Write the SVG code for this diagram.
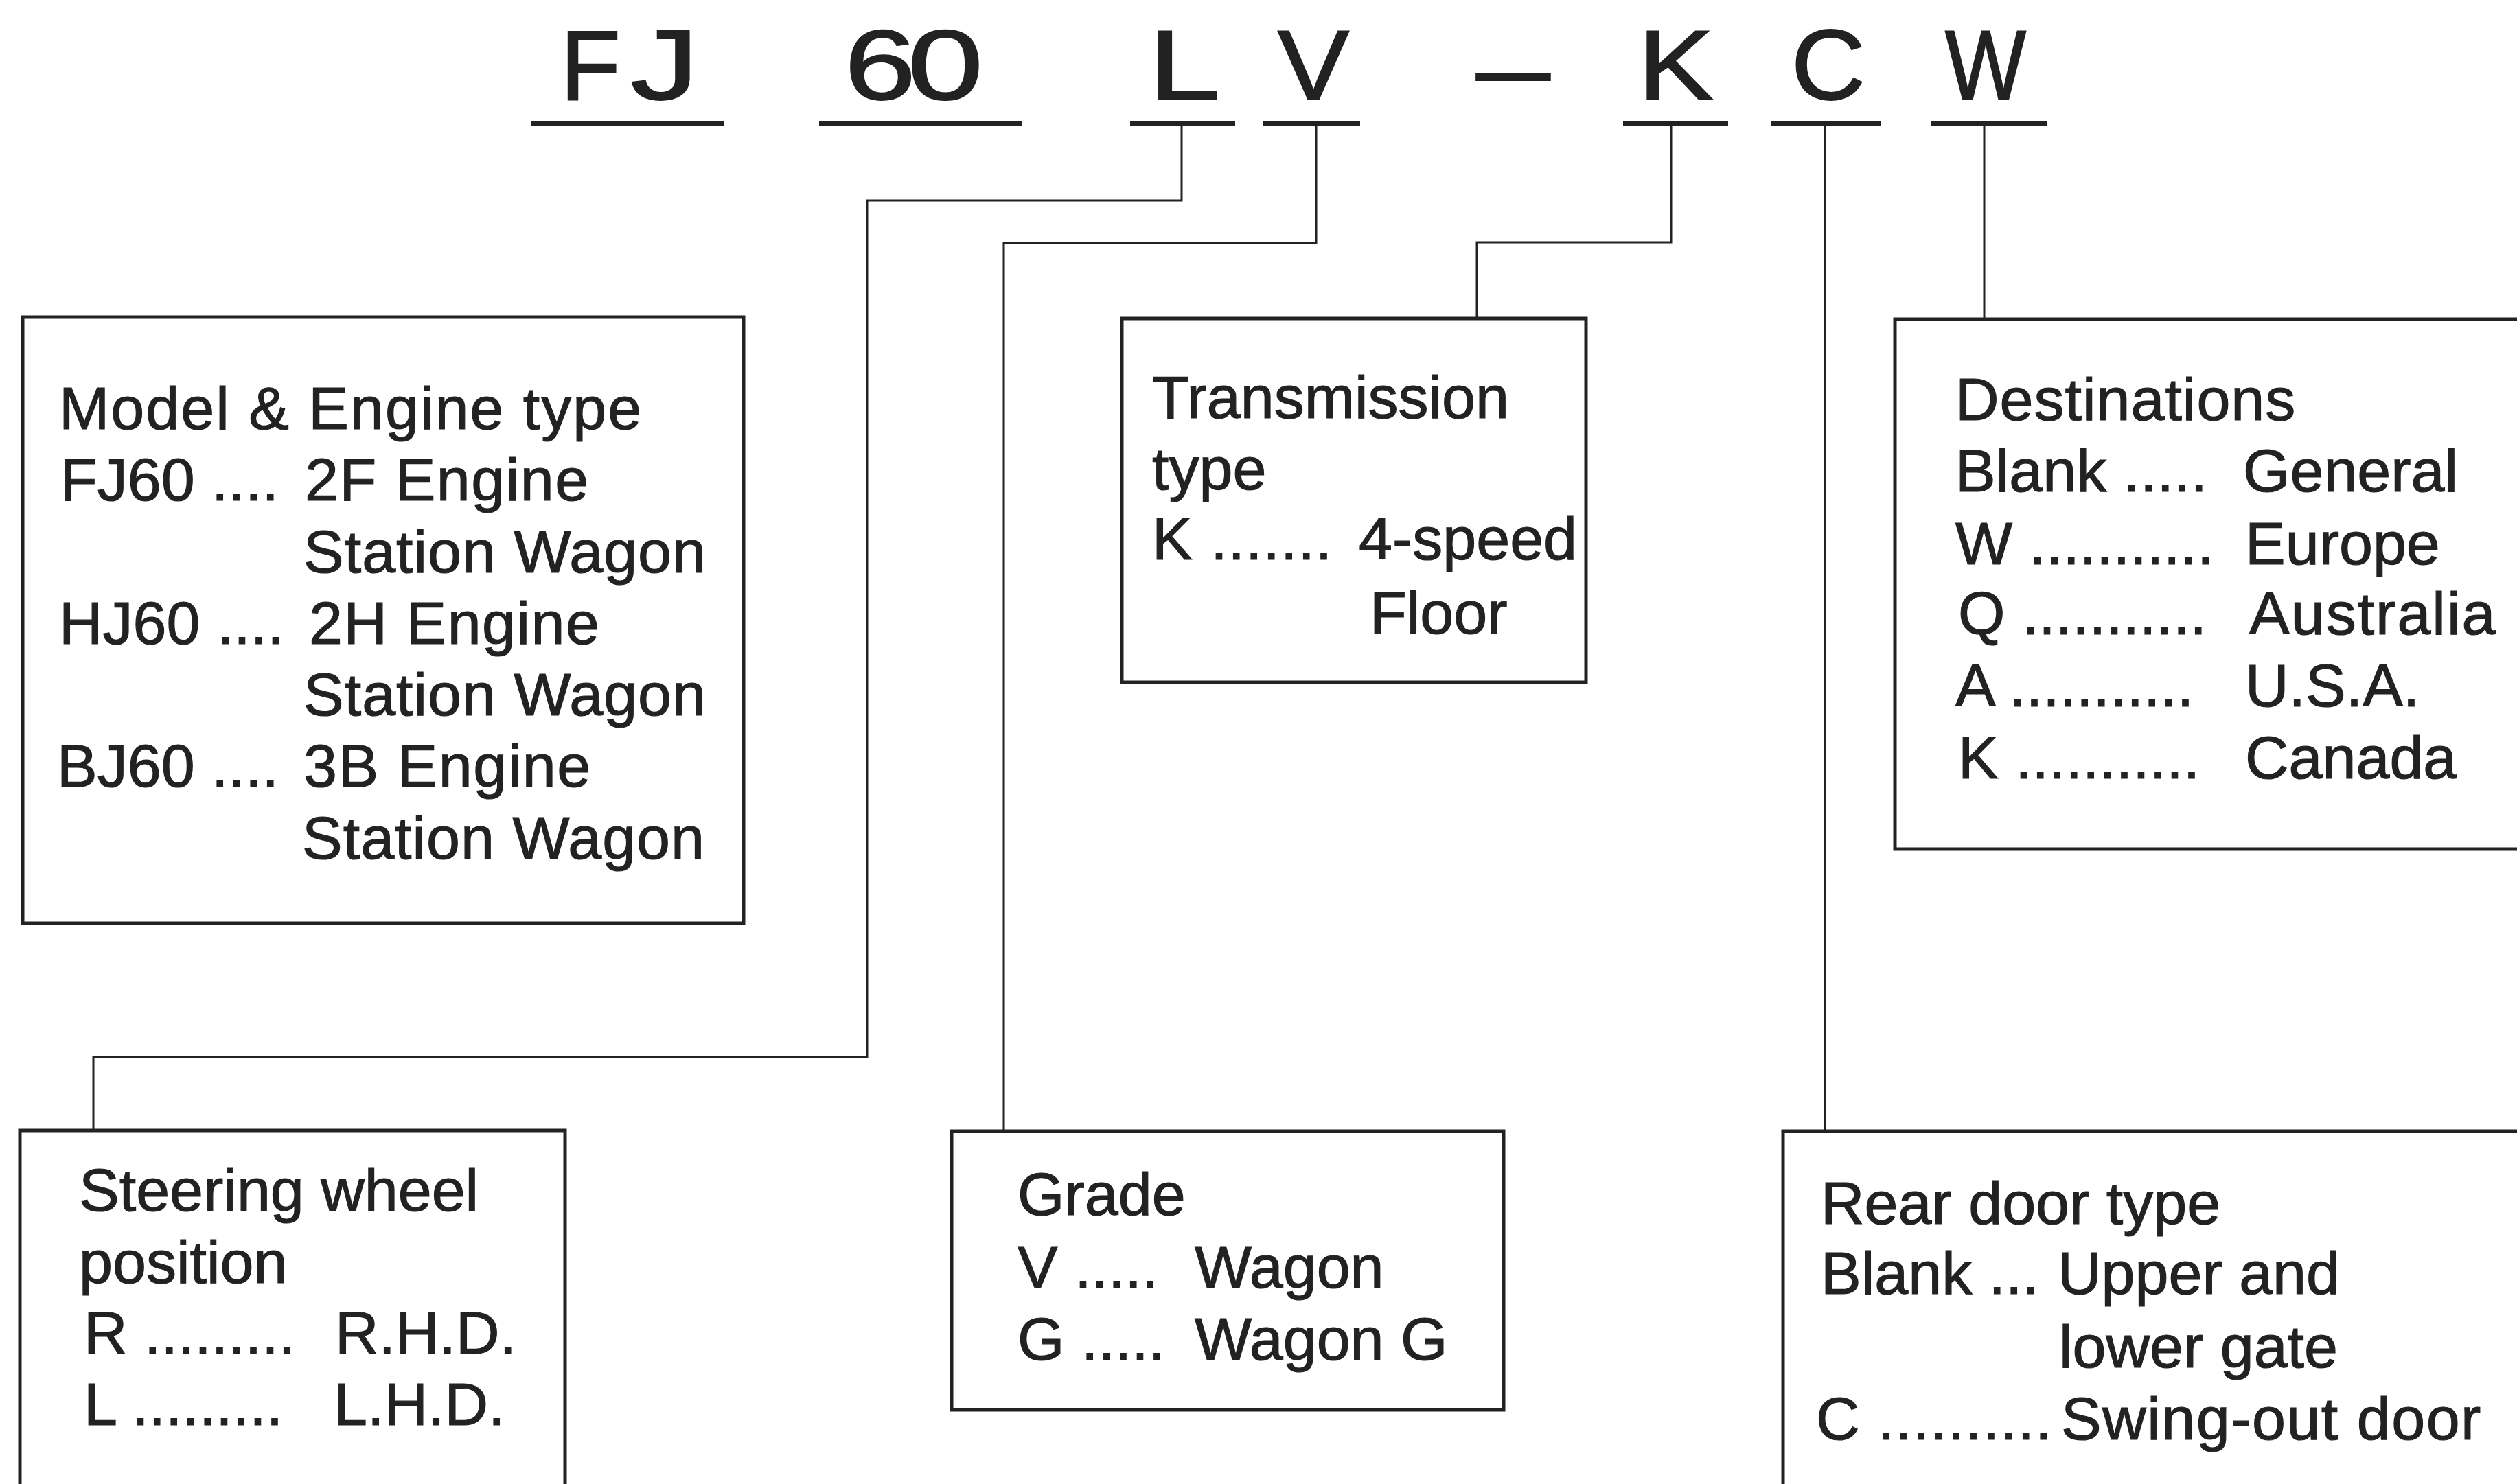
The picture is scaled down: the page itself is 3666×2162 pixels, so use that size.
<svg xmlns="http://www.w3.org/2000/svg" width="3666" height="2162" viewBox="0 0 3666 2162">
<style>
.bg{fill:#ffffff}
.t{font-family:"Liberation Sans",Arial,sans-serif;font-size:88px;fill:#222222;stroke:#222222;stroke-width:1.2}
.title{font-family:"Liberation Sans",Arial,sans-serif;font-size:144px;fill:#222222;stroke:#222222;stroke-width:2;text-anchor:middle}
.box{fill:none;stroke:#222222;stroke-width:5}
.ul{stroke:#222222;stroke-width:6;fill:none}
.conn{fill:none;stroke:#222222;stroke-width:3}
</style>
<rect class="bg" x="0" y="0" width="3666" height="2162"/>
<g id="title">
<text class="title" x="860" y="145" textLength="88" lengthAdjust="spacingAndGlyphs">F</text>
<text class="title" x="968" y="145" textLength="100" lengthAdjust="spacingAndGlyphs">J</text>
<text class="title" x="1282" y="145" textLength="104" lengthAdjust="spacingAndGlyphs">6</text>
<text class="title" x="1377" y="145" textLength="110" lengthAdjust="spacingAndGlyphs">0</text>
<text class="title" x="1725" y="145" textLength="104" lengthAdjust="spacingAndGlyphs">L</text>
<text class="title" x="1913" y="145" textLength="104" lengthAdjust="spacingAndGlyphs">V</text>
<text class="title" x="2204" y="149" textLength="107" lengthAdjust="spacingAndGlyphs">–</text>
<text class="title" x="2441" y="145" textLength="110" lengthAdjust="spacingAndGlyphs">K</text>
<text class="title" x="2663" y="145" textLength="108" lengthAdjust="spacingAndGlyphs">C</text>
<text class="title" x="2892" y="145" textLength="118" lengthAdjust="spacingAndGlyphs">W</text>
<line class="ul" x1="773" y1="180" x2="1055" y2="180"/>
<line class="ul" x1="1193" y1="180" x2="1488" y2="180"/>
<line class="ul" x1="1646" y1="180" x2="1799" y2="180"/>
<line class="ul" x1="1840" y1="180" x2="1981" y2="180"/>
<line class="ul" x1="2364" y1="180" x2="2517" y2="180"/>
<line class="ul" x1="2580" y1="180" x2="2739" y2="180"/>
<line class="ul" x1="2812" y1="180" x2="2981" y2="180"/>
</g>
<g id="connectors">
<path class="conn" d="M1721 180 V292 H1263 V1540 H136 V1648"/>
<path class="conn" d="M1917 180 V354 H1462 V1648"/>
<path class="conn" d="M2434 180 V353 H2151 V465"/>
<path class="conn" d="M2658 180 V1648"/>
<path class="conn" d="M2890 180 V465"/>
</g>
<g id="model-engine">
<rect class="box" x="33" y="462" width="1050" height="883"/>
<text class="t" x="86" y="625" letter-spacing="2">Model &amp; Engine type</text>
<text class="t" x="88" y="729">FJ60 ....</text>
<text class="t" x="444" y="729" letter-spacing="1.5">2F Engine</text>
<text class="t" x="442" y="834" letter-spacing="1">Station Wagon</text>
<text class="t" x="86" y="938">HJ60 ....</text>
<text class="t" x="450" y="938" letter-spacing="1.5">2H Engine</text>
<text class="t" x="442" y="1042" letter-spacing="1">Station Wagon</text>
<text class="t" x="83" y="1146">BJ60 ....</text>
<text class="t" x="442" y="1146" letter-spacing="1.5">3B Engine</text>
<text class="t" x="440" y="1251" letter-spacing="1">Station Wagon</text>
</g>
<g id="transmission">
<rect class="box" x="1634" y="464" width="676" height="530"/>
<text class="t" x="1678" y="609">Transmission</text>
<text class="t" x="1678" y="713">type</text>
<text class="t" x="1678" y="815" letter-spacing="1">K .......</text>
<text class="t" x="1979" y="815">4-speed</text>
<text class="t" x="1995" y="923">Floor</text>
</g>
<g id="destinations">
<rect class="box" x="2760" y="465" width="930" height="772"/>
<text class="t" x="2848" y="612" letter-spacing="1">Destinations</text>
<text class="t" x="2848" y="716">Blank .....</text>
<text class="t" x="3267" y="716">General</text>
<text class="t" x="2848" y="822">W ...........</text>
<text class="t" x="3270" y="822">Europe</text>
<text class="t" x="2852" y="924">Q ...........</text>
<text class="t" x="3276" y="924" letter-spacing="2">Australia</text>
<text class="t" x="2848" y="1029">A ...........</text>
<text class="t" x="3270" y="1029">U.S.A.</text>
<text class="t" x="2852" y="1134">K ...........</text>
<text class="t" x="3270" y="1134">Canada</text>
</g>
<g id="steering">
<rect class="box" x="29" y="1647" width="794" height="560"/>
<text class="t" x="115" y="1764">Steering wheel</text>
<text class="t" x="115" y="1869">position</text>
<text class="t" x="122" y="1972">R .........</text>
<text class="t" x="488" y="1972">R.H.D.</text>
<text class="t" x="122" y="2076">L .........</text>
<text class="t" x="486" y="2076">L.H.D.</text>
</g>
<g id="grade">
<rect class="box" x="1386" y="1648" width="804" height="406"/>
<text class="t" x="1482" y="1770">Grade</text>
<text class="t" x="1482" y="1876">V .....</text>
<text class="t" x="1740" y="1876">Wagon</text>
<text class="t" x="1482" y="1981">G .....</text>
<text class="t" x="1740" y="1981">Wagon G</text>
</g>
<g id="rear-door">
<rect class="box" x="2597" y="1648" width="1090" height="560"/>
<text class="t" x="2652" y="1783">Rear door type</text>
<text class="t" x="2652" y="1885">Blank ...</text>
<text class="t" x="2997" y="1885">Upper and</text>
<text class="t" x="2999" y="1992">lower gate</text>
<text class="t" x="2645" y="2097" letter-spacing="1">C ..........</text>
<text class="t" x="3002" y="2097" letter-spacing="1.5">Swing-out door</text>
</g>
</svg>
